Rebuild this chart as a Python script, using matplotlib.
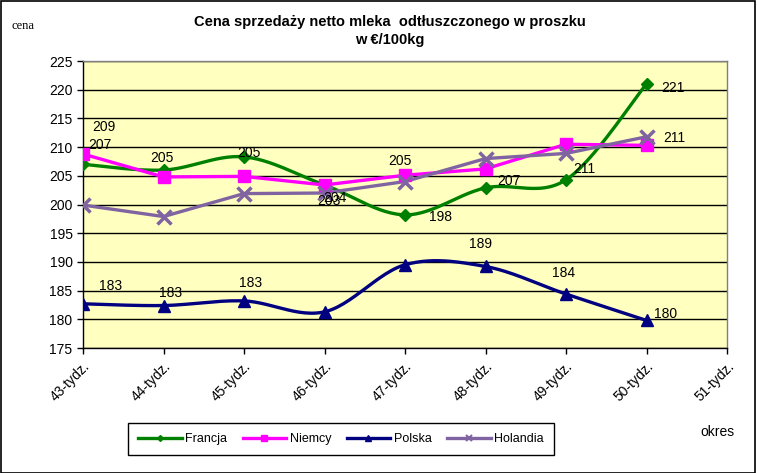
import numpy as np
import matplotlib.pyplot as plt
from matplotlib.patches import Rectangle

plt.rcParams['font.family'] = ['Liberation Sans', 'DejaVu Sans']

# dane
okresy = ['43-tydz.', '44-tydz.', '45-tydz.', '46-tydz.', '47-tydz.',
          '48-tydz.', '49-tydz.', '50-tydz.', '51-tydz.']
francja = [207.0, 206.0, 208.3, 203.4, 198.2, 202.9, 204.3, 221.0]
niemcy = [208.8, 204.8, 204.9, 203.4, 205.1, 206.2, 210.5, 210.3]
polska = [182.7, 182.4, 183.2, 181.3, 189.5, 189.2, 184.4, 179.8]
holandia = [199.9, 197.9, 201.9, 202.0, 204.0, 208.0, 208.9, 211.8]

# etykiety danych: (tekst, seria, indeks, przesuniecie x, y w px)
etykiety = [
    ('209', 'niemcy', 0, 21, 27), ('207', 'francja', 0, 17, 19),
    ('205', 'francja', 1, -2, 12), ('205', 'francja', 2, 5, 4),
    ('203', 'francja', 3, 4, -16), ('204', 'francja', 3, 10, -13),
    ('205', 'niemcy', 4, -5, 14), ('198', 'francja', 4, 35, -2),
    ('207', 'francja', 5, 23, 7), ('211', 'francja', 6, 18, 11),
    ('221', 'francja', 7, 26, -4), ('211', 'holandia', 7, 28, -1),
    ('183', 'polska', 0, 28, 18), ('183', 'polska', 1, 7, 13),
    ('183', 'polska', 2, 7, 18), ('189', 'polska', 5, -5, 22),
    ('184', 'polska', 6, -2, 21), ('180', 'polska', 7, 19, 6),
]


def wygladz(xs, ys, n=30):
    # krzywa jak "wygladzona linia" w Excelu (Bezier / Catmull-Rom)
    p = np.column_stack([xs, ys]).astype(float)
    p = np.vstack([p[0], p, p[-1]])
    out = []
    for i in range(1, len(p) - 2):
        p0, p1, p2, p3 = p[i - 1], p[i], p[i + 1], p[i + 2]
        c1 = p1 + (p2 - p0) / 6
        c2 = p2 - (p3 - p1) / 6
        t = np.linspace(0, 1, n)[:, None]
        seg = ((1 - t) ** 3) * p1 + 3 * ((1 - t) ** 2) * t * c1 + 3 * (1 - t) * t ** 2 * c2 + t ** 3 * p2
        out.append(seg if i == 1 else seg[1:])
    out = np.vstack(out)
    return out[:, 0], out[:, 1]


fig = plt.figure(figsize=(7.57, 4.73), dpi=100)
ax = fig.add_axes([83 / 757, 1 - 348 / 473, (727 - 83) / 757, (348 - 61) / 473])
ax.set_facecolor('#FFFFC0')

x = np.arange(len(francja))
serie = {
    'francja': (francja, '#008000', 'D', 6, True, 'Francja'),
    'niemcy': (niemcy, '#FF00FF', 's', 9, False, 'Niemcy'),
    'polska': (polska, '#000080', '^', 9, True, 'Polska'),
    'holandia': (holandia, '#8064A2', 'x', 10, False, 'Holandia'),
}
handles = []
for key in ['francja', 'niemcy', 'polska', 'holandia']:
    ys, col, mk, ms, smooth, name = serie[key]
    if smooth:
        sx, sy = wygladz(x, ys)
    else:
        sx, sy = x, ys
    ax.plot(sx, sy, color=col, lw=2.4, zorder=3)
    ax.plot(x, ys, ls='none', marker=mk, ms=ms, color=col, mew=2.5 if mk == 'x' else 1, zorder=4)
    h, = ax.plot([], [], color=col, lw=2.4, marker=mk, ms=ms * 0.5, mew=1.5 if mk == 'x' else 1)
    h.set_label(name)
    handles.append(h)

for txt, key, i, dx, dy in etykiety:
    ax.annotate(txt, (x[i], serie[key][0][i]), xytext=(dx * 0.72, dy * 0.72),
                textcoords='offset points', ha='center', va='center', fontsize=10, zorder=5)

ax.set_xlim(0, len(okresy) - 1)
ax.set_ylim(175, 225)
ax.set_yticks(np.arange(175, 226, 5))
ax.set_xticks(np.arange(len(okresy)))
ax.set_xticklabels(okresy, rotation=45, ha='right', va='top', rotation_mode='anchor')
ax.tick_params(axis='both', labelsize=10, direction='out', length=4, width=1, colors='black')
ax.tick_params(axis='x', pad=4)
ax.grid(axis='y', color='black', lw=1)
ax.set_axisbelow(True)
for s in ['top', 'right']:
    ax.spines[s].set_color('#808080')
for s in ['left', 'bottom']:
    ax.spines[s].set_color('black')
for s in ax.spines.values():
    s.set_linewidth(1)

fig.text(390 / 757, 1 - 22 / 473, 'Cena sprzedaży netto mleka  odtłuszczonego w proszku',
         ha='center', va='center', fontsize=10.5, fontweight='bold')
fig.text(390 / 757, 1 - 40 / 473, 'w €/100kg', ha='center', va='center', fontsize=10.5, fontweight='bold')
fig.text(12 / 757, 1 - 26 / 473, 'cena', ha='left', va='center', fontsize=9, family='Liberation Serif')
fig.text(700 / 757, 1 - 432 / 473, 'okres', ha='left', va='center', fontsize=10)

leg = fig.legend(handles=handles, loc='center', bbox_to_anchor=(341 / 757, 1 - 439 / 473), ncol=4,
                 fontsize=9, handlelength=3.5, columnspacing=1.2, handletextpad=0.3,
                 fancybox=False, edgecolor='black', framealpha=1, borderpad=0.8)
leg.get_frame().set_linewidth(1)

fig.patches.append(Rectangle((0.001, 0.001), 0.997, 0.997, transform=fig.transFigure,
                             fill=False, edgecolor='black', lw=1.2))

fig.savefig('out.png', dpi=100)
